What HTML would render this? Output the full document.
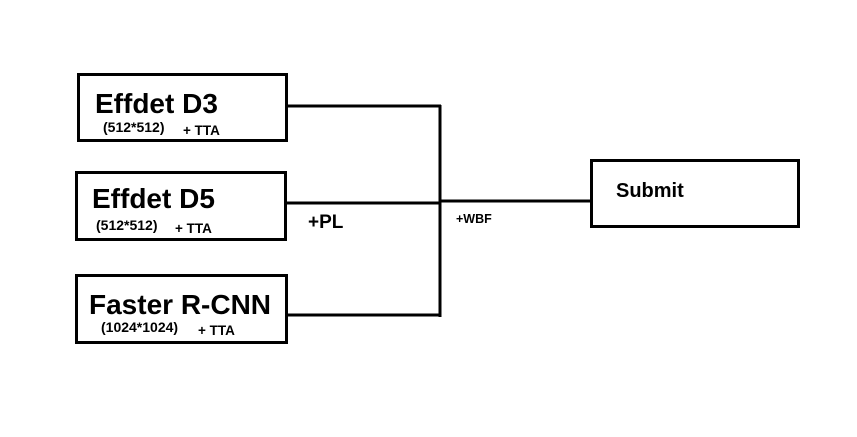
<!DOCTYPE html>
<html><head><style>html,body{margin:0;padding:0;background:#fff}</style></head><body>
<svg width="857" height="437" xmlns="http://www.w3.org/2000/svg" style="display:block">
<rect width="857" height="437" fill="#fff"/>
<g fill="none" stroke="#000" stroke-width="3">
<rect x="78.5" y="74.5" width="208" height="66"/>
<rect x="76.5" y="172.5" width="209" height="67"/>
<rect x="76.5" y="275.5" width="210" height="67"/>
<rect x="591.5" y="160.5" width="207" height="66"/>
<line x1="287" y1="106" x2="441" y2="106"/>
<line x1="286" y1="203" x2="441" y2="203"/>
<line x1="287" y1="315" x2="441" y2="315"/>
<line x1="440" y1="105" x2="440" y2="317"/>
<line x1="440" y1="201" x2="593" y2="201"/>
</g>
<g font-family="Liberation Sans, sans-serif" font-weight="bold" fill="#000">
<text x="95" y="113" font-size="28">Effdet D3</text>
<text x="103" y="132" font-size="14">(512*512)</text>
<text x="183" y="135" font-size="13.5">+ TTA</text>
<text x="92" y="208" font-size="28">Effdet D5</text>
<text x="96" y="230" font-size="14">(512*512)</text>
<text x="175" y="233" font-size="13.5">+ TTA</text>
<text x="89" y="314" font-size="28">Faster R-CNN</text>
<text x="101" y="332" font-size="14">(1024*1024)</text>
<text x="198" y="335" font-size="13.5">+ TTA</text>
<text x="308" y="228" font-size="19">+PL</text>
<text x="456" y="223" font-size="12.5">+WBF</text>
<text x="616" y="197" font-size="20">Submit</text>
</g>
</svg>
</body></html>
